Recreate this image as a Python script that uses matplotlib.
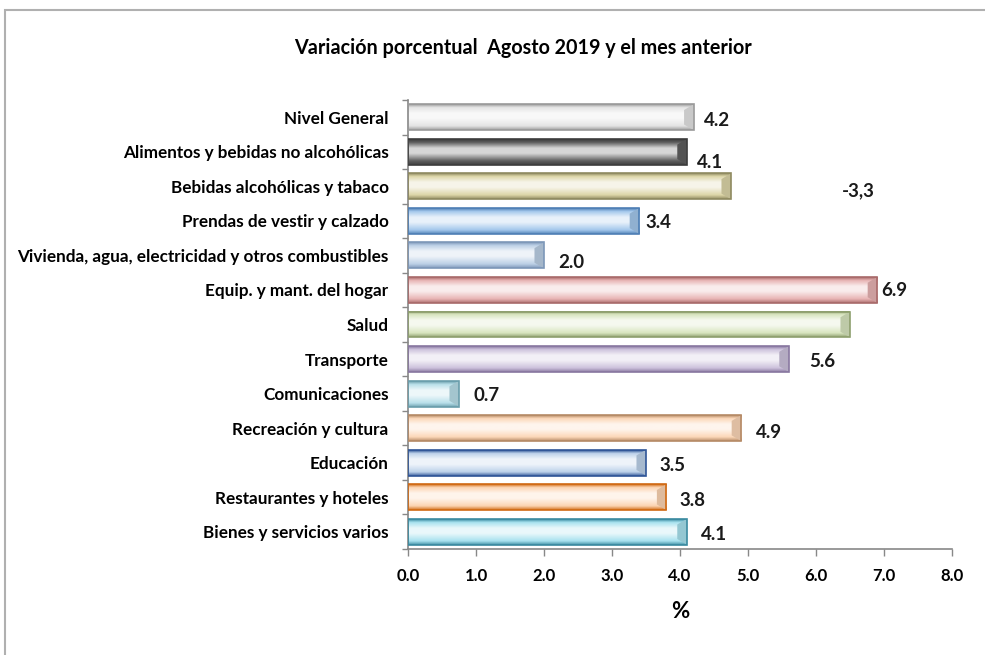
import numpy as np
import matplotlib
matplotlib.use("Agg")
import matplotlib.pyplot as plt
from matplotlib.colors import LinearSegmentedColormap, to_rgb
from matplotlib.patches import Rectangle

plt.rcParams['font.family'] = ['Lato', 'DejaVu Sans']

# datos
categorias = ["Nivel General", "Alimentos y bebidas no alcohólicas",
              "Bebidas alcohólicas y tabaco", "Prendas de vestir y calzado",
              "Vivienda, agua, electricidad y otros combustibles",
              "Equip. y mant. del hogar", "Salud", "Transporte",
              "Comunicaciones", "Recreación y cultura", "Educación",
              "Restaurantes y hoteles", "Bienes y servicios varios"]
valores = [4.2, 4.1, 4.75, 3.4, 2.0, 6.9, 6.5, 5.6, 0.75, 4.9, 3.5, 3.8, 4.1]
etiquetas = ["4.2", "4.1", "-3,3", "3.4", "2.0", "6.9", "", "5.6", "0.7",
             "4.9", "3.5", "3.8", "4.1"]
ticks_x = np.arange(0, 8.1, 1.0)

# estilo de cada barra (relleno, borde)
colores = ["#e4e4e4", "#5e5e5e", "#ddd6a8", "#a4c8ec", "#bcd0e6", "#e8b4b4",
           "#d8e5bf", "#cdc2dc", "#b9e0ea", "#fcd7b8", "#bdd2ea", "#fcd4b2",
           "#a8e2ef"]
bordes = ["#9a9a9a", "#3c3c3c", "#8f8a60", "#4f7fb5", "#7d97b8", "#a86a6a",
          "#8e9f6e", "#8877a0", "#6a9eac", "#b58a66", "#2f5597", "#d06a14",
          "#3a8aa0"]
# desplazamiento de etiquetas (pixeles)
desp = [(10, -3), (10, -11), (111, -4), (6, -2), (14, -7), (4, -1), (0, 0),
        (20, -2), (15, -2), (15, -4), (13, -3), (13, -3), (14, -3)]

fig = plt.figure(figsize=(9.85, 6.55), dpi=100)
ax = fig.add_axes([408/985, 1-549/655, 544/985, 449/655])

pos = np.arange(len(categorias))
barras = ax.barh(pos, valores, height=0.75, color="none", edgecolor="none")

grad = np.linspace(0, 1, 64).reshape(-1, 1)
for b, c, e in zip(barras, colores, bordes):
    base = np.array(to_rgb(c))
    dark = np.array(to_rgb(e))
    light = base + (1 - base) * 0.75
    cmap = LinearSegmentedColormap.from_list(
        "g", [(0, dark), (0.12, base), (0.35, light), (0.55, light),
              (0.85, base), (1, dark * 0.9 + base * 0.1)])
    x0, y0 = b.get_x(), b.get_y()
    w, h = b.get_width(), b.get_height()
    ax.imshow(grad, cmap=cmap, aspect="auto", extent=(x0, x0 + w, y0 + h, y0),
              zorder=2, interpolation="bilinear")
    # bisel extremo derecho
    bw = 0.14
    ax.fill([x0 + w - bw, x0 + w, x0 + w, x0 + w - bw],
            [y0 + h * 0.22, y0, y0 + h, y0 + h * 0.78],
            color=base * 0.88, zorder=3, linewidth=0)
    ax.add_patch(Rectangle((x0, y0), w, h, fill=False, edgecolor=e,
                           linewidth=1.2, zorder=4))
ax.set_ylim(len(categorias)-0.5, -0.5)
ax.set_xlim(0, 8)

for i, (v, t) in enumerate(zip(valores, etiquetas)):
    if t:
        ax.annotate(t, (v, i), xytext=(desp[i][0] * 0.72, desp[i][1] * 0.72),
                    textcoords="offset points", ha="left", va="center",
                    fontsize=13.5, fontweight="bold", color="#1a1a1a")

ax.set_yticks(pos)
ax.set_yticklabels(categorias, fontsize=12.3, fontweight="bold")
ax.set_yticks(np.arange(-0.5, len(categorias), 1), minor=True)
ax.tick_params(axis="y", which="major", length=0, pad=14)
ax.tick_params(axis="y", which="minor", length=4, color="#888888", width=1)
ax.set_xticks(ticks_x)
ax.set_xticklabels([f"{t:.1f}" for t in ticks_x], fontsize=12, fontweight="bold")
ax.tick_params(axis="x", length=5, color="#888888", width=1, pad=9)

for s in ["top", "right"]:
    ax.spines[s].set_visible(False)
for s in ["left", "bottom"]:
    ax.spines[s].set_color("#888888")
    ax.spines[s].set_linewidth(1.2)

ax.set_xlabel("%", fontsize=16, fontweight="bold", labelpad=12)
fig.text(523/985, 1-48/655, "Variación porcentual  Agosto 2019 y el mes anterior",
         ha="center", va="center", fontsize=14.2, fontweight="bold")

fig.patches.append(Rectangle((5/985, -0.02), 1.02, 1-10/655+0.02,
                             transform=fig.transFigure, fill=False,
                             edgecolor="#b0b0b0", linewidth=1.5))

fig.savefig("out.png", dpi=100)
